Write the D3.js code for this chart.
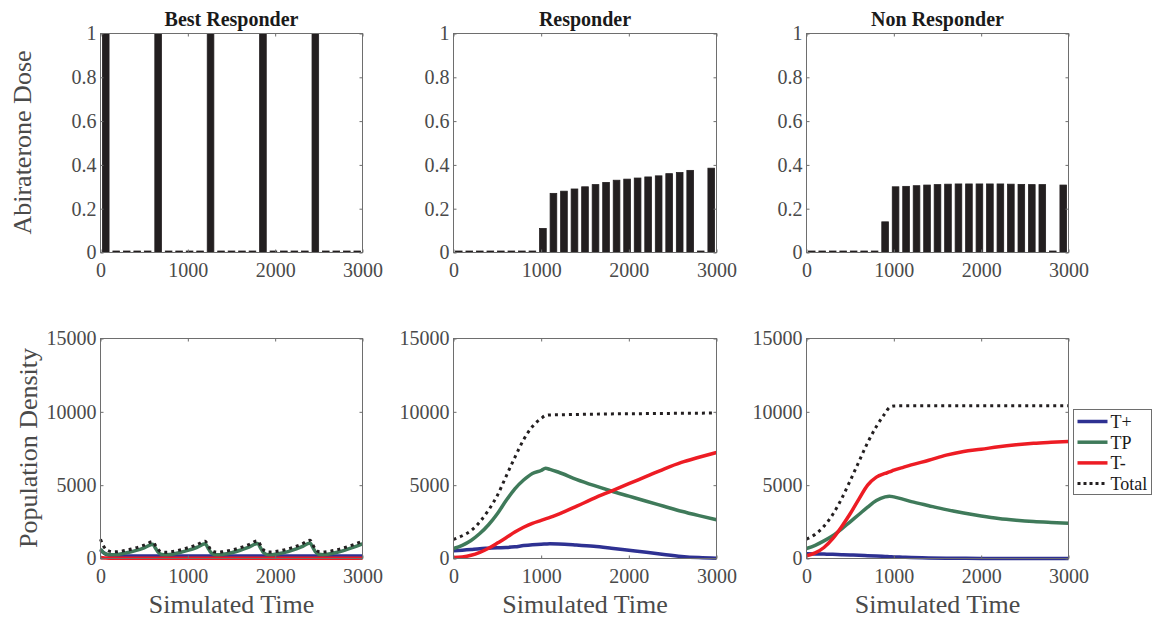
<!DOCTYPE html>
<html>
<head>
<meta charset="utf-8">
<script src="https://cdn.jsdelivr.net/npm/d3@7"></script>
<style>
body { margin: 0; background: #fff; }
text { font-family: "Liberation Serif", "Times New Roman", serif; }
</style>
</head>
<body>
<script>
// panel titles
var titles = ["Best Responder", "Responder", "Non Responder"];

// dose bars (one every 120 time units)
var doseTimes = [60, 180, 300, 420, 540, 660, 780, 900, 1020, 1140, 1260, 1380, 1500,
                 1620, 1740, 1860, 1980, 2100, 2220, 2340, 2460, 2580, 2700, 2820, 2940];
var doseBest = [1, 0, 0, 0, 0, 1, 0, 0, 0, 0, 1, 0, 0, 0, 0, 1, 0, 0, 0, 0, 1, 0, 0, 0, 0];
var doseResp = [0, 0, 0, 0, 0, 0, 0, 0, 0.11, 0.27, 0.28, 0.29, 0.30, 0.31, 0.32, 0.33,
                0.335, 0.34, 0.345, 0.35, 0.36, 0.365, 0.375, 0, 0.385];
var doseNon = [0, 0, 0, 0, 0, 0, 0, 0.14, 0.30, 0.302, 0.305, 0.308, 0.31, 0.312, 0.313,
               0.313, 0.313, 0.313, 0.313, 0.312, 0.311, 0.31, 0.31, 0, 0.308];

// population, best responder
var timeBest = [0, 30, 60, 100, 150, 200, 300, 400, 500, 600,
                630, 660, 700, 750, 800, 900, 1000, 1100, 1200,
                1230, 1260, 1300, 1350, 1400, 1500, 1600, 1700, 1800,
                1830, 1860, 1900, 1950, 2000, 2100, 2200, 2300, 2400,
                2430, 2460, 2500, 2550, 2600, 2700, 2800, 2900, 3000];
var tPlusBest = [600, 420, 300, 220, 190, 175, 170, 170, 170, 170,
                 170, 170, 170, 170, 170, 170, 170, 170, 170,
                 170, 170, 170, 170, 170, 170, 170, 170, 170,
                 170, 170, 170, 170, 170, 170, 170, 170, 170,
                 170, 170, 170, 170, 170, 170, 170, 170, 170];
var tpBest = [650, 430, 310, 260, 250, 280, 390, 540, 730, 970,
              700, 430, 270, 250, 280, 390, 550, 750, 1000,
              730, 440, 275, 252, 285, 395, 560, 770, 1030,
              750, 450, 280, 255, 290, 400, 570, 790, 1060,
              770, 460, 285, 258, 292, 405, 570, 770, 1000];
var tMinusBest = [60, 45, 30, 20, 15, 12, 10, 10, 10, 10,
                  10, 10, 10, 10, 10, 10, 10, 10, 10,
                  10, 10, 10, 10, 10, 10, 10, 10, 10,
                  10, 10, 10, 10, 10, 10, 10, 10, 10,
                  10, 10, 10, 10, 10, 10, 10, 10, 10];
var totalBest = [1310, 895, 640, 500, 455, 467, 570, 720, 910, 1150,
                 880, 610, 450, 430, 460, 570, 730, 930, 1180,
                 910, 620, 455, 432, 465, 575, 740, 950, 1210,
                 930, 630, 460, 435, 470, 580, 750, 970, 1240,
                 950, 640, 465, 438, 472, 585, 750, 950, 1180];

// population, responder
var timeResp = [0, 100, 200, 300, 400, 500, 600, 700, 800, 900, 1000, 1050, 1100,
                1200, 1400, 1600, 1800, 2000, 2200, 2400, 2600, 2800, 3000];
var tPlusResp = [520, 570, 620, 670, 700, 730, 750, 800, 880, 940, 980, 990, 1000,
                 990, 920, 830, 700, 560, 420, 270, 140, 60, 20];
var tpResp = [680, 900, 1230, 1700, 2300, 3050, 3950, 4750, 5350, 5800, 6000, 6150, 6080,
              5880, 5400, 4980, 4600, 4250, 3900, 3560, 3220, 2920, 2640];
var tMinusResp = [70, 110, 220, 420, 700, 1050, 1420, 1800, 2130, 2400, 2600, 2700, 2800,
                  3030, 3550, 4100, 4600, 5100, 5600, 6100, 6550, 6900, 7230];
var totalResp = [1300, 1550, 1900, 2500, 3300, 4300, 5600, 6900, 8100, 9000, 9550, 9750, 9790,
                 9800, 9820, 9840, 9860, 9870, 9880, 9890, 9900, 9910, 9920];

// population, non responder
var timeNon = [0, 100, 200, 300, 400, 500, 600, 700, 800, 900, 950, 1000, 1100,
               1200, 1400, 1600, 1800, 2000, 2200, 2400, 2600, 2800, 3000];
var tPlusNon = [320, 315, 300, 285, 260, 240, 220, 195, 170, 140, 125, 110, 90,
                70, 40, 20, 10, 5, 0, 0, 0, 0, 0];
var tpNon = [680, 900, 1200, 1550, 2000, 2500, 3000, 3500, 3950, 4200, 4250, 4200, 4050,
             3880, 3600, 3330, 3100, 2900, 2730, 2610, 2520, 2460, 2410];
var tMinusNon = [180, 380, 750, 1350, 2150, 3050, 4050, 5000, 5550, 5800, 5900, 6020, 6200,
                 6380, 6700, 7050, 7300, 7450, 7620, 7750, 7850, 7920, 7980];
var totalNon = [1320, 1650, 2200, 3000, 4050, 5300, 6600, 7900, 9000, 9900, 10300, 10400, 10410,
                10410, 10410, 10410, 10410, 10410, 10410, 10410, 10410, 10410, 10410];

var seriesNames = ["T+", "TP", "T-", "Total"];
var seriesColors = ["#2e3192", "#3f7a5a", "#ed1c24", "#231f20"];

var timeTicks = [0, 1000, 2000, 3000];
var doseTicks = [0, 0.2, 0.4, 0.6, 0.8, 1];
var popTicks = [0, 5000, 10000, 15000];

var cols = [[100, 362], [453, 716], [806, 1068]];
var topRow = [33, 252];
var botRow = [338, 558];

var doses = [doseBest, doseResp, doseNon];
var pops = [
  { t: timeBest, s: [tPlusBest, tpBest, tMinusBest, totalBest] },
  { t: timeResp, s: [tPlusResp, tpResp, tMinusResp, totalResp] },
  { t: timeNon, s: [tPlusNon, tpNon, tMinusNon, totalNon] }
];

var svg = d3.select("body").append("svg")
  .attr("width", 1153)
  .attr("height", 620);

// axes with inward ticks on all four sides, like matlab box on
function drawAxes(g, x, y, yTicks, yFmt, w, h) {
  g.append("g")
    .attr("transform", "translate(0," + h + ")")
    .call(d3.axisBottom(x).tickValues(timeTicks).tickSize(-3).tickPadding(10).tickFormat(d3.format("d")));
  g.append("g")
    .call(d3.axisTop(x).tickValues(timeTicks).tickSize(-3).tickFormat(""));
  g.append("g")
    .call(d3.axisLeft(y).tickValues(yTicks).tickSize(-3).tickPadding(4).tickFormat(yFmt));
  g.append("g")
    .attr("transform", "translate(" + w + ",0)")
    .call(d3.axisRight(y).tickValues(yTicks).tickSize(-3).tickFormat(""));

  g.selectAll(".domain").remove();
  g.selectAll(".tick line").attr("stroke", "#6e6e6e");
  g.selectAll(".tick text")
    .attr("fill", "#4a4a4a")
    .style("font-size", "20px")
    .style("font-family", "'Liberation Serif', serif");

  g.append("rect")
    .attr("width", w)
    .attr("height", h)
    .attr("fill", "none")
    .attr("stroke", "#6e6e6e")
    .attr("stroke-width", 1);
}

cols.forEach(function(c, i) {
  var w = c[1] - c[0];

  // dose panel
  var h1 = topRow[1] - topRow[0];
  var gTop = svg.append("g")
    .attr("transform", "translate(" + (c[0] + 0.5) + "," + (topRow[0] + 0.5) + ")");
  var x = d3.scaleLinear().domain([0, 3000]).range([0, w]);
  var yDose = d3.scaleLinear().domain([0, 1]).range([h1, 0]);

  gTop.append("g")
    .selectAll("rect")
    .data(doses[i])
    .enter()
    .append("rect")
    .attr("x", function(d, k) { return x(doseTimes[k] - 38); })
    .attr("width", function(d, k) { return x(doseTimes[k] + 38) - x(doseTimes[k] - 38); })
    .attr("y", function(d) { return Math.min(yDose(d), yDose(0) - 1.5); })
    .attr("height", function(d) { return Math.max(yDose(0) - yDose(d), 1.5); })
    .attr("fill", "#231f20")
    .attr("stroke", "#231f20")
    .attr("stroke-width", 0.8);

  drawAxes(gTop, x, yDose, doseTicks, function(d) { return String(+d.toFixed(1)); }, w, h1);

  gTop.append("text")
    .attr("x", w / 2)
    .attr("y", -8)
    .attr("text-anchor", "middle")
    .style("font-size", "20px")
    .style("font-weight", "bold")
    .attr("fill", "#1a1a1a")
    .text(titles[i]);

  // population panel
  var h2 = botRow[1] - botRow[0];
  var gBot = svg.append("g")
    .attr("transform", "translate(" + (c[0] + 0.5) + "," + (botRow[0] + 0.5) + ")");
  var yPop = d3.scaleLinear().domain([0, 15000]).range([h2, 0]);
  var p = pops[i];

  var line = d3.line()
    .x(function(d, k) { return x(p.t[k]); })
    .y(function(d) { return yPop(d); })
    .curve(d3.curveMonotoneX);

  gBot.append("g")
    .selectAll("path")
    .data(p.s)
    .enter()
    .append("path")
    .attr("d", line)
    .attr("fill", "none")
    .attr("stroke", function(d, k) { return seriesColors[k]; })
    .attr("stroke-width", function(d, k) { return k == 3 ? 3 : 3.5; })
    .attr("stroke-dasharray", function(d, k) { return k == 3 ? "3,4" : null; });

  drawAxes(gBot, x, yPop, popTicks, d3.format("d"), w, h2);

  gBot.append("text")
    .attr("x", w / 2)
    .attr("y", 274 - 0 + h2 - 220)
    .attr("text-anchor", "middle")
    .style("font-size", "26px")
    .attr("fill", "#4a4a4a")
    .text("Simulated Time");
});

// y axis labels
svg.append("text")
  .attr("transform", "translate(31," + (topRow[0] + topRow[1]) / 2 + ") rotate(-90)")
  .attr("text-anchor", "middle")
  .style("font-size", "26px")
  .attr("fill", "#4a4a4a")
  .text("Abiraterone Dose");

svg.append("text")
  .attr("transform", "translate(37," + (botRow[0] + botRow[1]) / 2 + ") rotate(-90)")
  .attr("text-anchor", "middle")
  .style("font-size", "26px")
  .attr("fill", "#4a4a4a")
  .text("Population Density");

// legend
var legend = svg.append("g").attr("transform", "translate(1073.5,409.5)");
legend.append("rect")
  .attr("width", 78)
  .attr("height", 85)
  .attr("fill", "#fff")
  .attr("stroke", "#6e6e6e");

var item = legend.selectAll(".item")
  .data(seriesNames)
  .enter()
  .append("g")
  .attr("transform", function(d, i) { return "translate(0," + (12 + i * 20.7) + ")"; });

item.append("line")
  .attr("x1", 4)
  .attr("x2", 34)
  .attr("stroke", function(d, i) { return seriesColors[i]; })
  .attr("stroke-width", function(d, i) { return i == 3 ? 3 : 3.5; })
  .attr("stroke-dasharray", function(d, i) { return i == 3 ? "3,3" : null; });

item.append("text")
  .attr("x", 37)
  .attr("dy", "0.35em")
  .style("font-size", "18px")
  .attr("fill", "#1a1a1a")
  .text(function(d) { return d; });
</script>
</body>
</html>
